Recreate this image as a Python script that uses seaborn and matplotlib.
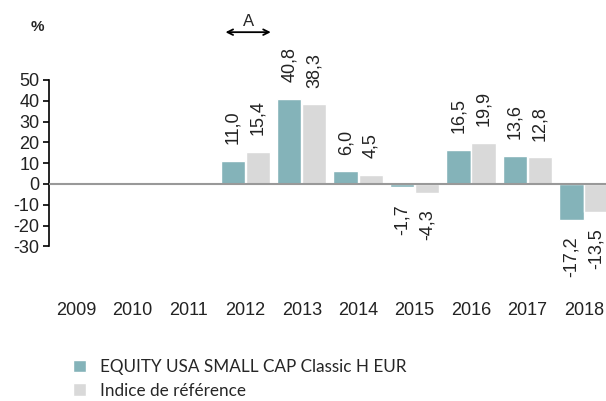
import pandas as pd
import numpy as np
import matplotlib
matplotlib.use("Agg")
import matplotlib.pyplot as plt
import seaborn as sns

# === DATA ===
years = ["2009", "2010", "2011", "2012", "2013", "2014", "2015", "2016", "2017", "2018"]
fund = [np.nan, np.nan, np.nan, 11.0, 40.8, 6.0, -1.7, 16.5, 13.6, -17.2]
index_ref = [np.nan, np.nan, np.nan, 15.4, 38.3, 4.5, -4.3, 19.9, 12.8, -13.5]
series_names = ["EQUITY USA SMALL CAP Classic H EUR", "Indice de référence"]
colors = ["#84B3B9", "#D9D9D9"]

df = pd.DataFrame({
    "year": years * 2,
    "value": fund + index_ref,
    "series": [series_names[0]] * len(years) + [series_names[1]] * len(years),
})

# === STYLE ===
sns.set_style("white")
plt.rcParams["font.family"] = ["Liberation Sans", "DejaVu Sans"]
plt.rcParams["axes.unicode_minus"] = False

fig = plt.figure(figsize=(6.06, 4.01), dpi=100)
ax = fig.add_axes([0.0809, 0.2768, 0.919, 0.5237])

sns.barplot(data=df, x="year", y="value", hue="series", order=years,
            hue_order=series_names, palette=colors, width=0.89, gap=0.03,
            saturation=1, ax=ax, legend=True)

ax.set_xlim(-0.478, 9.39)
ax.set_ylim(-51, 50)
ax.axhline(0, color="#999999", lw=1.5, zorder=3)

# value labels (bars with NaN are not drawn, so read values from the bars)
for cont in ax.containers:
    for bar in cont:
        v = bar.get_height()
        if np.isnan(v):
            continue
        cx = bar.get_x() + bar.get_width() / 2
        txt = f"{v:.1f}".replace(".", ",")
        off = 12 if v >= 0 else -12
        ax.annotate(txt, (cx, v), xytext=(0, off), textcoords="offset points",
                    rotation=90, ha="center", va="bottom" if v >= 0 else "top",
                    fontsize=13, color="#222222", annotation_clip=False)

# axes
for s in ["top", "right", "bottom"]:
    ax.spines[s].set_visible(False)
ax.spines["left"].set_color("black")
ax.spines["left"].set_linewidth(1.2)
ax.spines["left"].set_bounds(-30, 50)
ax.set_yticks([-30, -20, -10, 0, 10, 20, 30, 40, 50])
ax.tick_params(axis="y", left=True, length=4, width=1.2, labelsize=13, pad=3,
               colors="black", labelcolor="#222222")
ax.tick_params(axis="x", bottom=False, labelsize=13, pad=5, labelcolor="#222222")
ax.set_xlabel("")
ax.set_ylabel("")

fig.text(0.061, 0.933, "%", fontsize=11, fontweight="bold", ha="center", va="center")

# arrow annotation for period A
ax.annotate("", xy=(2.6, 73), xytext=(3.5, 73),
            arrowprops=dict(arrowstyle="<->", color="black", lw=1.3),
            annotation_clip=False)
ax.text(3.05, 74.5, "A", ha="center", va="bottom", fontsize=12)

# legend
handles, labels = ax.get_legend_handles_labels()
ax.legend(handles, labels, loc="upper left", bbox_to_anchor=(0.12, 0.105),
          bbox_transform=fig.transFigure, frameon=False,
          prop={"family": "Lato", "size": 12.3},
          handlelength=0.75, handleheight=0.75, handletextpad=0.85,
          labelspacing=0.45, borderaxespad=0, borderpad=0)

plt.savefig("out.png", dpi=100)
